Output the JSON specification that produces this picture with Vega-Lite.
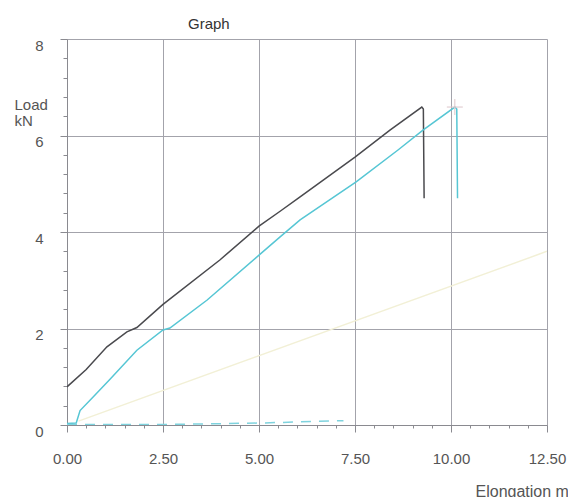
{
  "$schema": "https://vega.github.io/schema/vega-lite/v6.json",
  "width": 480,
  "height": 386,
  "autosize": {"type": "none"},
  "padding": {"left": 67, "top": 39, "right": 21, "bottom": 72},
  "background": "white",
  "config": {"view": {"stroke": null}, "font": "Liberation Sans"},
  "title": {"text": "Graph", "anchor": "start", "frame": "group", "dx": 121, "dy": 16, "baseline": "alphabetic", "offset": 10, "fontSize": 15, "fontWeight": "normal", "color": "#333333"},
  "datasets": {
    "curves": [
      {"series": "A", "elongation": 0, "load": 0.79},
      {"series": "A", "elongation": 0.5, "load": 1.15},
      {"series": "A", "elongation": 1.04, "load": 1.62},
      {"series": "A", "elongation": 1.56, "load": 1.93},
      {"series": "A", "elongation": 1.82, "load": 2.02},
      {"series": "A", "elongation": 2.5, "load": 2.5},
      {"series": "A", "elongation": 3.98, "load": 3.42},
      {"series": "A", "elongation": 5.0, "load": 4.12},
      {"series": "A", "elongation": 5.55, "load": 4.43},
      {"series": "A", "elongation": 6.07, "load": 4.73},
      {"series": "A", "elongation": 7.5, "load": 5.55},
      {"series": "A", "elongation": 8.41, "load": 6.11},
      {"series": "A", "elongation": 9.24, "load": 6.59},
      {"series": "A", "elongation": 9.28, "load": 6.55},
      {"series": "A", "elongation": 9.3, "load": 4.7},
      {"series": "B", "elongation": 0, "load": 0.03},
      {"series": "B", "elongation": 0.24, "load": 0.04},
      {"series": "B", "elongation": 0.34, "load": 0.3},
      {"series": "B", "elongation": 0.68, "load": 0.58},
      {"series": "B", "elongation": 1.12, "load": 0.95},
      {"series": "B", "elongation": 1.82, "load": 1.55},
      {"series": "B", "elongation": 2.5, "load": 1.97},
      {"series": "B", "elongation": 2.68, "load": 2.01},
      {"series": "B", "elongation": 3.65, "load": 2.59},
      {"series": "B", "elongation": 5.0, "load": 3.52},
      {"series": "B", "elongation": 5.55, "load": 3.9},
      {"series": "B", "elongation": 6.07, "load": 4.25},
      {"series": "B", "elongation": 7.53, "load": 5.04},
      {"series": "B", "elongation": 8.62, "load": 5.7},
      {"series": "B", "elongation": 9.27, "load": 6.11},
      {"series": "B", "elongation": 10.1, "load": 6.59},
      {"series": "B", "elongation": 10.15, "load": 6.55},
      {"series": "B", "elongation": 10.17, "load": 4.7},
      {"series": "D", "elongation": 0.3, "load": 0.08},
      {"series": "D", "elongation": 12.5, "load": 3.6}
    ],
    "dashed": [
      {"series": "C", "elongation": 0, "load": 0.01},
      {"series": "C", "elongation": 2.5, "load": 0.01},
      {"series": "C", "elongation": 5.0, "load": 0.04},
      {"series": "C", "elongation": 7.2, "load": 0.09}
    ],
    "peak": [
      {"elongation": 10.1, "load": 6.59}
    ]
  },
  "resolve": {"axis": {"x": "independent", "y": "independent"}},
  "layer": [
    {
      "data": {"name": "curves"},
      "mark": {"type": "line", "strokeWidth": 1.5, "clip": true},
      "encoding": {
        "x": {
          "field": "elongation", "type": "quantitative",
          "scale": {"domain": [0, 12.5], "nice": false, "zero": false},
          "axis": {
            "orient": "bottom",
            "values": [0, 2.5, 5, 7.5, 10, 12.5],
            "format": ".2f",
            "tickSize": 7,
            "grid": true,
            "gridColor": "#a3a3ab",
            "domainColor": "#8a8a90",
            "tickColor": "#8a8a90",
            "labelPadding": 19,
            "labelFontSize": 15,
            "labelColor": "#555555",
            "labelFlush": false,
            "labelOverlap": false,
            "labelBound": false,
            "title": "Elongation mm",
            "titleX": 408,
            "titleY": 71,
            "titleAlign": "left",
            "titleBaseline": "alphabetic",
            "titleFontWeight": "normal",
            "titleFontSize": 16,
            "titleColor": "#555555"
          }
        },
        "y": {
          "field": "load", "type": "quantitative",
          "scale": {"domain": [0, 8], "nice": false},
          "axis": {
            "orient": "left",
            "values": [0, 2, 4, 6, 8],
            "format": "d",
            "tickSize": 7,
            "grid": true,
            "gridColor": "#a3a3ab",
            "domainColor": "#8a8a90",
            "tickColor": "#8a8a90",
            "labelPadding": 17,
            "labelOffset": 6,
            "labelFontSize": 15,
            "labelColor": "#555555",
            "labelFlush": false,
            "labelOverlap": false,
            "labelBound": false,
            "title": ["Load", "kN"],
            "titleAngle": 0,
            "titleX": -53,
            "titleY": 58,
            "titleAlign": "left",
            "titleBaseline": "top",
            "titleLineHeight": 16,
            "titleFontWeight": "normal",
            "titleFontSize": 15,
            "titleColor": "#555555"
          }
        },
        "color": {
          "field": "series", "type": "nominal",
          "scale": {"domain": ["A", "B", "D"], "range": ["#4a4a4e", "#56c6d4", "#f2f0d6"]},
          "legend": null
        }
      }
    },
    {
      "data": {"name": "dashed"},
      "mark": {"type": "line", "strokeWidth": 1.5, "strokeDash": [10, 8], "color": "#7fd3de", "clip": true},
      "encoding": {
        "x": {
          "field": "elongation", "type": "quantitative",
          "axis": {
            "orient": "bottom",
            "values": [0.5, 1, 1.5, 2, 3, 3.5, 4, 4.5, 5.5, 6, 6.5, 7, 8, 8.5, 9, 9.5, 10.5, 11, 11.5, 12],
            "labels": false, "grid": false, "domain": false, "tickSize": 3,
            "tickColor": "#8a8a90", "title": null
          }
        },
        "y": {
          "field": "load", "type": "quantitative",
          "axis": {
            "orient": "left",
            "values": [0.4, 0.8, 1.2, 1.6, 2.4, 2.8, 3.2, 3.6, 4.4, 4.8, 5.2, 5.6, 6.4, 6.8, 7.2, 7.6],
            "labels": false, "grid": false, "domain": false, "tickSize": 4,
            "tickColor": "#8a8a90", "title": null
          }
        }
      }
    },
    {
      "data": {"name": "peak"},
      "mark": {"type": "point", "shape": "M-1,0H1M0,-1V1", "size": 256, "filled": false, "stroke": "#dcc6ca", "strokeWidth": 1, "opacity": 1},
      "encoding": {
        "x": {"field": "elongation", "type": "quantitative", "axis": null},
        "y": {"field": "load", "type": "quantitative", "axis": null}
      }
    }
  ]
}
